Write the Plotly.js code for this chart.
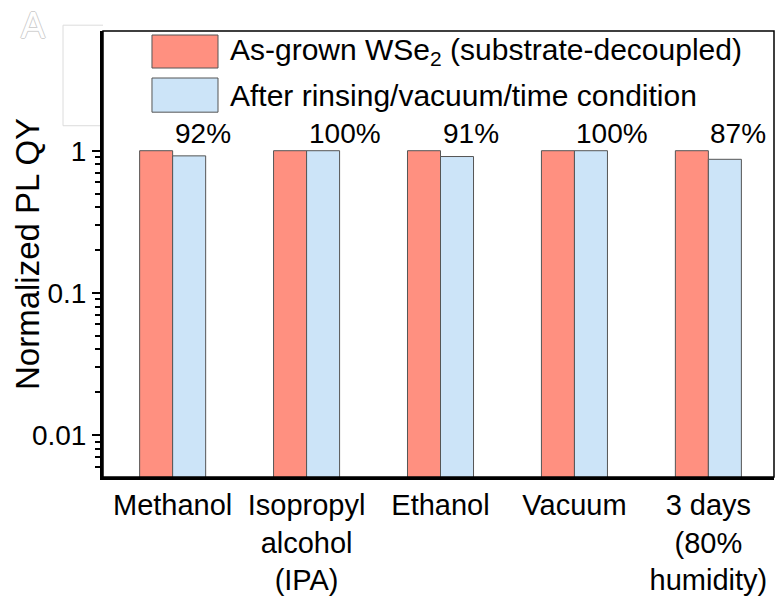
<!DOCTYPE html>
<html>
<head>
<meta charset="utf-8">
<script src="https://cdn.plot.ly/plotly-3.0.1.min.js"></script>
<style>html,body{margin:0;padding:0;background:#fff;}#chart{width:780px;height:596px;}</style>
</head>
<body>
<div id="chart"></div>
<script>
var categories = ["Methanol", "Isopropyl<br>alcohol<br>(IPA)", "Ethanol", "Vacuum", "3 days<br>(80%<br>humidity)"];
var asGrown = [1, 1, 1, 1, 1];
var afterTreatment = [0.92, 1.00, 0.91, 1.00, 0.87];
var pctLabels = ["92%", "100%", "91%", "100%", "87%"];
var seriesNames = ["As-grown WSe<sub>2</sub> (substrate-decoupled)", "After rinsing/vacuum/time condition"];
var yAxisTitle = "Normalized PL QY";
var yTickVals = [0.01, 0.1, 1];
var yTickText = ["0.01", "0.1", "1"];
var yMinorVals = [0.006, 0.007, 0.008, 0.009, 0.02, 0.03, 0.04, 0.05, 0.06, 0.07, 0.08, 0.09, 0.2, 0.3, 0.4, 0.5, 0.6, 0.7, 0.8, 0.9];

var FONT = "Liberation Sans, Arial, sans-serif";
var RED = "#ff9080";
var BLUE = "#cce4f8";
var EDGE = "#555555";

var traces = [
  {type: "bar", x: categories, y: asGrown, name: seriesNames[0],
   marker: {color: RED, line: {color: EDGE, width: 1}}, showlegend: false, hoverinfo: "y"},
  {type: "bar", x: categories, y: afterTreatment, name: seriesNames[1],
   marker: {color: BLUE, line: {color: EDGE, width: 1}}, showlegend: false, hoverinfo: "y"}
];

var annotations = [];
for (var i = 0; i < categories.length; i++) {
  annotations.push({
    x: categories[i], xref: "x", y: 0, yref: "y",
    text: pctLabels[i], showarrow: false,
    xanchor: "left", yanchor: "bottom", yshift: 0, xshift: 0,
    font: {family: FONT, size: 28, color: "#000"}
  });
}
// legend texts
annotations.push({x: 0.1863, y: 0.955, xref: "paper", yref: "paper", xanchor: "left", yanchor: "middle",
  text: seriesNames[0], showarrow: false, font: {family: FONT, size: 30, color: "#000"}});
annotations.push({x: 0.1863, y: 0.8565, xref: "paper", yref: "paper", xanchor: "left", yanchor: "middle",
  text: seriesNames[1], showarrow: false, font: {family: FONT, size: 30, color: "#000"}});
// y-axis title
annotations.push({x: -0.1133, y: 0.5, xref: "paper", yref: "paper", xanchor: "center", yanchor: "middle",
  text: yAxisTitle, textangle: -90, showarrow: false, font: {family: FONT, size: 33, color: "#000"}});
// faint panel letter
annotations.push({x: -0.105, y: 1.012, xref: "paper", yref: "paper", xanchor: "center", yanchor: "middle",
  text: "A", showarrow: false,
  font: {family: FONT, size: 36, color: "#ffffff", shadow: "1px 0 #d0d0d0, -1px 0 #d0d0d0, 0 1px #d0d0d0, 0 -1px #d0d0d0"}});

var shapes = [
  // frame (top/right thinner)
  {type: "rect", xref: "paper", yref: "paper", x0: 0, x1: 1, y0: 0, y1: 1,
   line: {color: "#000", width: 1.5}, layer: "above"},
  // legend swatches
  {type: "rect", xref: "paper", yref: "paper", x0: 0.073, x1: 0.1714, y0: 0.917, y1: 0.991,
   fillcolor: RED, line: {color: EDGE, width: 1}},
  {type: "rect", xref: "paper", yref: "paper", x0: 0.073, x1: 0.1714, y0: 0.818, y1: 0.8946,
   fillcolor: BLUE, line: {color: EDGE, width: 1}},
  // faint box left of the frame
  {type: "path", xref: "paper", yref: "paper",
   path: "M 0,1.013 L -0.0596,1.013 L -0.0596,0.7876 L 0,0.7876",
   line: {color: "#dcdcdc", width: 1}, layer: "below"}
];

var layout = {
  width: 780, height: 596,
  margin: {l: 103, r: 6, t: 31, b: 119},
  paper_bgcolor: "#fff", plot_bgcolor: "#fff",
  font: {family: FONT, size: 28, color: "#000"},
  barmode: "group", bargap: 0.507, bargroupgap: 0,
  showlegend: false,
  xaxis: {
    type: "category", range: [-0.52, 4.49],
    showline: true, linecolor: "#000", linewidth: 3,
    ticks: "", showgrid: false, zeroline: false,
    tickfont: {family: FONT, size: 29, color: "#000"},
    automargin: false
  },
  yaxis: {
    type: "log", range: [-2.295, 0.842],
    showline: true, linecolor: "#000", linewidth: 3,
    tickmode: "array", tickvals: yTickVals, ticktext: yTickText,
    ticks: "outside", ticklen: 8, tickwidth: 2, tickcolor: "#000",
    minor: {tickmode: "array", tickvals: yMinorVals, ticks: "outside", ticklen: 5, tickwidth: 2, tickcolor: "#000", showgrid: false},
    showgrid: false, zeroline: false,
    tickfont: {family: FONT, size: 28, color: "#000"},
    automargin: false
  },
  annotations: annotations,
  shapes: shapes
};

Plotly.newPlot("chart", traces, layout, {displayModeBar: false, staticPlot: true});
</script>
</body>
</html>
